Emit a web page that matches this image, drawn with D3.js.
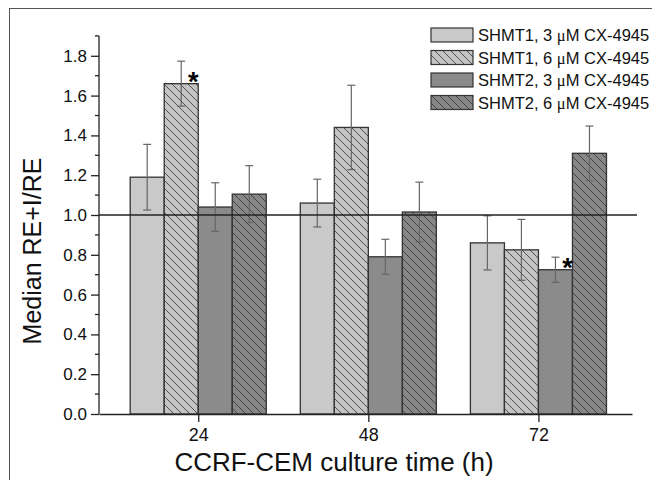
<!DOCTYPE html>
<html>
<head>
<meta charset="utf-8">
<script src="https://cdnjs.cloudflare.com/ajax/libs/d3/7.8.5/d3.min.js"></script>
<style>
  body { margin: 0; background: #fff; }
  svg { display: block; font-family: "Liberation Sans", Arial, sans-serif; }
</style>
</head>
<body>
<svg width="652" height="480"></svg>
<script>
// culture times (h) and the four treatment series
var times = [24, 48, 72];
var seriesNames = ["SHMT1, 3 ", "SHMT1, 6 ", "SHMT2, 3 ", "SHMT2, 6 "];
var shmt1_3 = [1.19, 1.06, 0.86];
var shmt1_6 = [1.66, 1.44, 0.825];
var shmt2_3 = [1.04, 0.79, 0.725];
var shmt2_6 = [1.105, 1.015, 1.31];
var err1_3 = [0.165, 0.12, 0.136];
var err1_6 = [0.113, 0.212, 0.153];
var err2_3 = [0.122, 0.088, 0.063];
var err2_6 = [0.143, 0.15, 0.137];
var yTicks = [0, 0.2, 0.4, 0.6, 0.8, 1.0, 1.2, 1.4, 1.6, 1.8];
// significant bars: [series index, time]
var starred = [[1, 24], [2, 72]];

var values = [shmt1_3, shmt1_6, shmt2_3, shmt2_6];
var errors = [err1_3, err1_6, err2_3, err2_6];
var fills = ["#c9c9c9", "url(#hatchLight)", "#8b8b8b", "url(#hatchDark)"];

var svg = d3.select("svg");

var x = d3.scaleLinear().domain([10, 85.2]).range([99, 632]);
var y = d3.scaleLinear().domain([0, 2]).range([414, 16]);
var barW = 4.8; // in hours

// outer frame
svg.append("rect")
    .attr("x", 9.5).attr("y", 8.5)
    .attr("width", 700).attr("height", 500)
    .attr("fill", "none").attr("stroke", "#555").attr("stroke-width", 1);

// hatch patterns
var defs = svg.append("defs");
[["hatchLight", "#c4c4c4"], ["hatchDark", "#878787"]].forEach(function (p) {
    var pat = defs.append("pattern")
        .attr("id", p[0])
        .attr("patternUnits", "userSpaceOnUse")
        .attr("width", 8).attr("height", 8);
    pat.append("rect").attr("width", 8).attr("height", 8).attr("fill", p[1]);
    pat.append("path")
        .attr("d", "M0,0L8,8M-2,6L2,10M6,-2L10,2")
        .attr("stroke", "#333").attr("stroke-width", 0.8);
});

// bars
var bars = [];
values.forEach(function (vals, s) {
    vals.forEach(function (v, i) {
        bars.push({ s: s, t: times[i], v: v, e: errors[s][i] });
    });
});

svg.selectAll(".bar").data(bars).enter().append("rect")
    .attr("class", "bar")
    .attr("x", function (d) { return x(d.t + (d.s - 2) * barW); })
    .attr("y", function (d) { return y(d.v); })
    .attr("width", function (d) { return x(d.t + (d.s - 1) * barW) - x(d.t + (d.s - 2) * barW); })
    .attr("height", function (d) { return y(0) - y(d.v); })
    .attr("fill", function (d) { return fills[d.s]; })
    .attr("stroke", "#333").attr("stroke-width", 1.3);

// error bars
var eb = svg.selectAll(".err").data(bars).enter().append("g")
    .attr("class", "err")
    .attr("stroke", "#666").attr("stroke-width", 1.2);
function cx(d) { return x(d.t + (d.s - 1.5) * barW); }
eb.append("line")
    .attr("x1", cx).attr("x2", cx)
    .attr("y1", function (d) { return y(d.v + d.e); })
    .attr("y2", function (d) { return y(d.v - d.e); });
eb.append("line")
    .attr("x1", function (d) { return cx(d) - 4; }).attr("x2", function (d) { return cx(d) + 4; })
    .attr("y1", function (d) { return y(d.v + d.e); })
    .attr("y2", function (d) { return y(d.v + d.e); });
eb.append("line")
    .attr("x1", function (d) { return cx(d) - 4; }).attr("x2", function (d) { return cx(d) + 4; })
    .attr("y1", function (d) { return y(d.v - d.e); })
    .attr("y2", function (d) { return y(d.v - d.e); });

// reference line at 1.0
svg.append("line")
    .attr("x1", 99).attr("x2", 637)
    .attr("y1", y(1)).attr("y2", y(1))
    .attr("stroke", "#222").attr("stroke-width", 1.3);

// significance stars
starred.forEach(function (st) {
    var s = st[0], i = times.indexOf(st[1]);
    svg.append("text")
        .attr("x", x(st[1] + (s - 1) * barW) - 5)
        .attr("y", y(values[s][i]) + 7)
        .attr("text-anchor", "middle")
        .attr("font-size", 27).attr("font-weight", "bold")
        .text("*");
});

// y axis
var yAxisG = svg.append("g").attr("transform", "translate(99,0)");
yAxisG.append("line")
    .attr("y1", y(0)).attr("y2", y(1.9))
    .attr("stroke", "#222").attr("stroke-width", 1.3);
yAxisG.selectAll(".minor").data(d3.range(0.1, 1.95, 0.2)).enter().append("line")
    .attr("x1", -4).attr("x2", 0)
    .attr("y1", function (d) { return y(d); }).attr("y2", function (d) { return y(d); })
    .attr("stroke", "#222").attr("stroke-width", 1.3);
var yAxis = d3.axisLeft(y).tickValues(yTicks).tickFormat(d3.format(".1f")).tickSize(8).tickPadding(4);
var ya = svg.append("g").attr("transform", "translate(99,0)").call(yAxis);
ya.select(".domain").remove();
ya.selectAll(".tick line").attr("stroke", "#222").attr("stroke-width", 1.3);
ya.selectAll(".tick text").attr("font-size", 17).attr("fill", "#111")
    .attr("font-family", "Liberation Sans, Arial, sans-serif");

// x axis
var xAxis = d3.axisBottom(x).tickValues(times).tickSize(8).tickPadding(6).tickSizeOuter(0);
var xa = svg.append("g").attr("transform", "translate(0," + y(0) + ")").call(xAxis);
xa.select(".domain").attr("stroke", "#222").attr("stroke-width", 1.3);
xa.selectAll(".tick line").attr("stroke", "#222").attr("stroke-width", 1.3);
xa.selectAll(".tick text").attr("font-size", 18).attr("fill", "#111")
    .attr("font-family", "Liberation Sans, Arial, sans-serif");

// axis titles
svg.append("text")
    .attr("transform", "translate(41,251) rotate(-90)")
    .attr("text-anchor", "middle")
    .attr("font-size", 25).attr("fill", "#111")
    .text("Median RE+I/RE");
svg.append("text")
    .attr("x", 334).attr("y", 471)
    .attr("text-anchor", "middle")
    .attr("font-size", 26).attr("fill", "#111")
    .text("CCRF-CEM culture time (h)");

// legend
var leg = svg.append("g");
seriesNames.forEach(function (name, i) {
    var ly = 28 + i * 22.5;
    leg.append("rect")
        .attr("x", 431).attr("y", ly)
        .attr("width", 42).attr("height", 14)
        .attr("fill", fills[i]).attr("stroke", "#333").attr("stroke-width", 1.2);
    var t = leg.append("text")
        .attr("x", 478).attr("y", ly + 13)
        .attr("font-size", 16.5).attr("fill", "#111");
    t.append("tspan").text(name);
    t.append("tspan").attr("font-family", "Liberation Serif, serif").text("\u03bc");
    t.append("tspan").text("M CX-4945");
});
</script>
</body>
</html>
